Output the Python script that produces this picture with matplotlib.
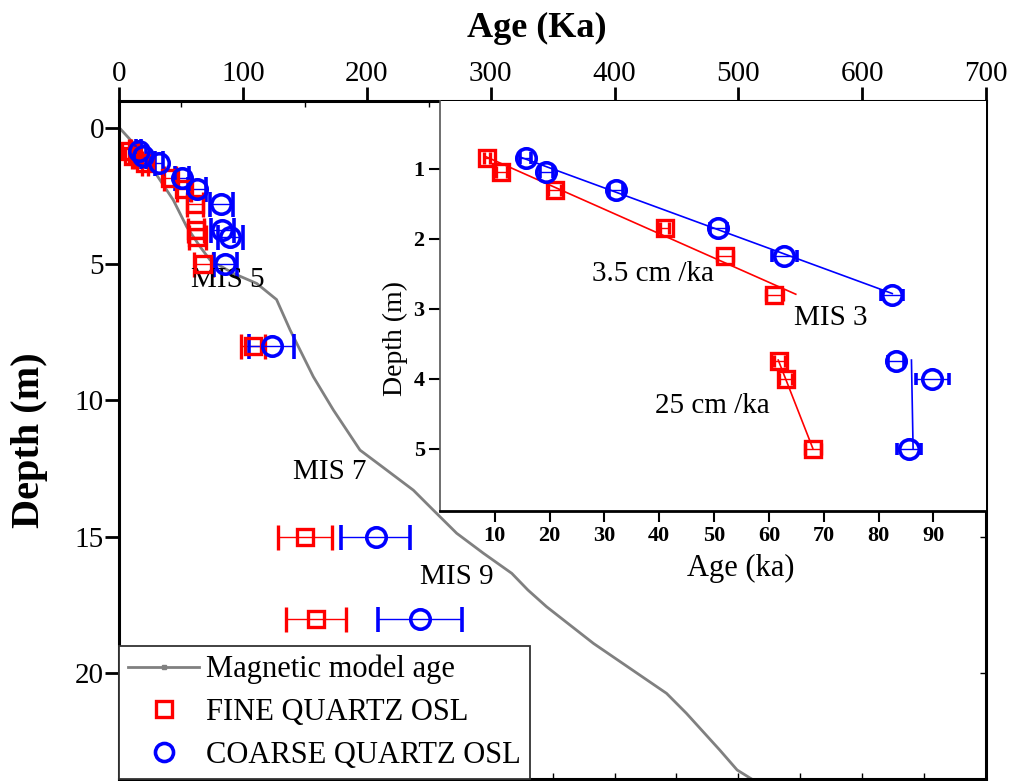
import matplotlib.pyplot as plt
from matplotlib.lines import Line2D

plt.rcParams['font.family'] = ['Liberation Serif', 'DejaVu Serif']

# magnetic model age curve (Ka, m)
mag_age = [0, 11.5, 27.5, 43.6, 54.4, 65.2, 73.3, 92.1, 111, 127, 138, 156.7,
           172.9, 194.4, 210.6, 237.5, 253.6, 272.5, 294, 317, 330, 345, 383,
           442, 458, 485, 499, 510]
mag_depth = [0, 0.57, 1.55, 2.65, 3.63, 4.36, 4.85, 5.34, 5.71, 6.3, 7.42, 9.13,
             10.35, 11.82, 12.37, 13.29, 14.02, 14.87, 15.6, 16.34, 16.95, 17.56,
             18.91, 20.74, 21.47, 22.82, 23.55, 23.86]

# shallow OSL samples (m, ka)
depth = [0.85, 1.05, 1.3, 1.85, 2.25, 2.8, 3.75, 4.0, 5.0]
fine_age = [8.6, 11.2, 20.9, 41.0, 52.0, 61.0, 61.9, 63.1, 68.0]
coarse_age = [15.6, 19.4, 32.1, 50.8, 62.8, 82.5, 83.2, 89.8, 85.6]
fine_err = [0.6, 1.0, 1.2, 0.8, 1.5, 1.5, 1.0, 1.2, 1.5]
coarse_err = [1.0, 1.2, 1.3, 1.5, 2.3, 2.0, 1.5, 3.0, 2.2]

# all samples with total uncertainty for the main panel
all_depth = depth + [8.0, 15.0, 18.0]
all_fine = fine_age + [108, 150, 159]
all_coarse = coarse_age + [123, 207, 243]
all_fine_err = [1.0, 1.3, 2.3, 4.5, 5.7, 6.7, 6.8, 7.0, 7.5, 10, 22, 24]
all_coarse_err = [1.8, 2.2, 3.5, 5.6, 7.0, 9.0, 9.2, 10.0, 9.5, 18, 28, 34]

# sedimentation-rate lines
fine_fit1_age, fine_fit1_depth = [8.5, 64.9], [0.83, 2.79]
fine_fit2_age, fine_fit2_depth = [61.7, 68.0], [3.73, 4.99]
coarse_fit1_age, coarse_fit1_depth = [14.6, 82.5], [0.83, 2.78]
coarse_fit2_age, coarse_fit2_depth = [86.0, 86.3], [3.73, 4.99]

W, H = 1016, 781
fig = plt.figure(figsize=(W / 100, H / 100), dpi=100)


def box(x0, y0, x1, y1):
    return [x0 / W, 1 - y1 / H, (x1 - x0) / W, (y1 - y0) / H]


RED = '#ff0000'
BLUE = '#0000ff'

# ---- main panel ----
ax = fig.add_axes(box(119.3, 101, 986, 779))
ax.plot(mag_age, mag_depth, color='#808080', lw=2, zorder=2)
ax.errorbar(all_fine, all_depth, xerr=all_fine_err, fmt='s', ms=12, mfc='none',
            mec=RED, mew=2.4, ecolor=RED, elinewidth=1, capsize=9, capthick=1,
            zorder=3)
ax.errorbar(all_coarse, all_depth, xerr=all_coarse_err, fmt='o', ms=14, mfc='none',
            mec=BLUE, mew=2.6, ecolor=BLUE, elinewidth=1, capsize=9, capthick=1,
            zorder=3)

ax.set_xlim(0, 700)
ax.set_ylim(23.88, -0.98)
ax.xaxis.tick_top()
ax.set_xticks(range(0, 701, 100))
ax.set_xticks(range(50, 700, 100), minor=True)
ax.set_yticks(range(0, 21, 5))
ax.tick_params(axis='x', which='major', direction='out', length=10, width=2,
               labelsize=21, pad=0)
ax.tick_params(axis='x', which='minor', direction='in', length=4, width=1)
ax.tick_params(axis='y', direction='out', length=10, width=2, labelsize=21, pad=1)
for s in ax.spines.values():
    s.set_linewidth(2.2)

bot = ax.secondary_xaxis('bottom')
bot.set_xticks(range(0, 701, 50))
bot.tick_params(direction='in', length=4, width=1, labelbottom=False)
rgt = ax.secondary_yaxis('right')
rgt.set_yticks(range(0, 21, 5))
rgt.tick_params(direction='in', length=4, width=1, labelright=False)

ax.text(87.8, 5.58, 'MIS 5', fontsize=21, ha='center', va='center')
ax.text(170.2, 12.62, 'MIS 7', fontsize=21, ha='center', va='center')
ax.text(272.8, 16.47, 'MIS 9', fontsize=21, ha='center', va='center')

fig.text(537 / W, 1 - 28 / H, 'Age (Ka)', fontsize=26, fontweight='bold',
         ha='center', va='center')
fig.text(30 / W, 1 - 440 / H, 'Depth (m)', fontsize=29, fontweight='bold',
         rotation=90, ha='center', va='center')

handles = [
    Line2D([], [], color='#808080', lw=2, marker='s', ms=3),
    Line2D([], [], ls='none', marker='s', ms=12, mfc='none', mec=RED, mew=2.4),
    Line2D([], [], ls='none', marker='o', ms=13, mfc='none', mec=BLUE, mew=2.6),
]
leg = ax.legend(handles, ['Magnetic model age', 'FINE QUARTZ OSL',
                          'COARSE QUARTZ OSL'],
                loc='lower left', bbox_to_anchor=(0, 0), borderaxespad=0,
                fontsize=22, fancybox=False, framealpha=1, edgecolor='#333333',
                handlelength=2.3, handletextpad=0.25, labelspacing=0.45,
                borderpad=0.3)
leg.get_frame().set_linewidth(1.3)

# ---- inset: upper 5 m ----
ins = fig.add_axes(box(440, 101, 986, 511), zorder=5)
ins.set_facecolor('white')
ins.plot(fine_fit1_age, fine_fit1_depth, color=RED, lw=1.2)
ins.plot(fine_fit2_age, fine_fit2_depth, color=RED, lw=1.2)
ins.plot(coarse_fit1_age, coarse_fit1_depth, color=BLUE, lw=1.2)
ins.plot(coarse_fit2_age, coarse_fit2_depth, color=BLUE, lw=1.2)
ins.errorbar(fine_age, depth, xerr=fine_err, fmt='s', ms=12, mfc='none',
             mec=RED, mew=2.4, ecolor=RED, elinewidth=1, capsize=4, capthick=1)
ins.errorbar(coarse_age, depth, xerr=coarse_err, fmt='o', ms=14, mfc='none',
             mec=BLUE, mew=2.6, ecolor=BLUE, elinewidth=1, capsize=4, capthick=1)

ins.set_xlim(0, 99.6)
ins.set_ylim(5.886, 0.03)
ins.set_xticks(range(10, 91, 10))
ins.set_yticks(range(1, 6))
ins.tick_params(direction='out', length=8, width=1.5, labelsize=16, pad=3)
for lab in ins.get_xticklabels() + ins.get_yticklabels():
    lab.set_fontweight('bold')
ins.spines['top'].set_visible(False)
ins.spines['right'].set_visible(False)
ins.spines['left'].set_color('#555555')
ins.spines['left'].set_linewidth(1.2)
ins.spines['bottom'].set_linewidth(2)

ins.text(71.3, 3.13, 'MIS 3', fontsize=21, ha='center', va='center')
ins.text(38.9, 2.5, '3.5 cm /ka', fontsize=21, ha='center', va='center')
ins.text(49.7, 4.39, '25 cm /ka', fontsize=21, ha='center', va='center')

fig.text(741 / W, 1 - 568 / H, 'Age (ka)', fontsize=22, ha='center', va='center')
fig.text(395 / W, 1 - 338 / H, 'Depth (m)', fontsize=20, rotation=90,
         ha='center', va='center')

fig.savefig('out.png', dpi=100)
